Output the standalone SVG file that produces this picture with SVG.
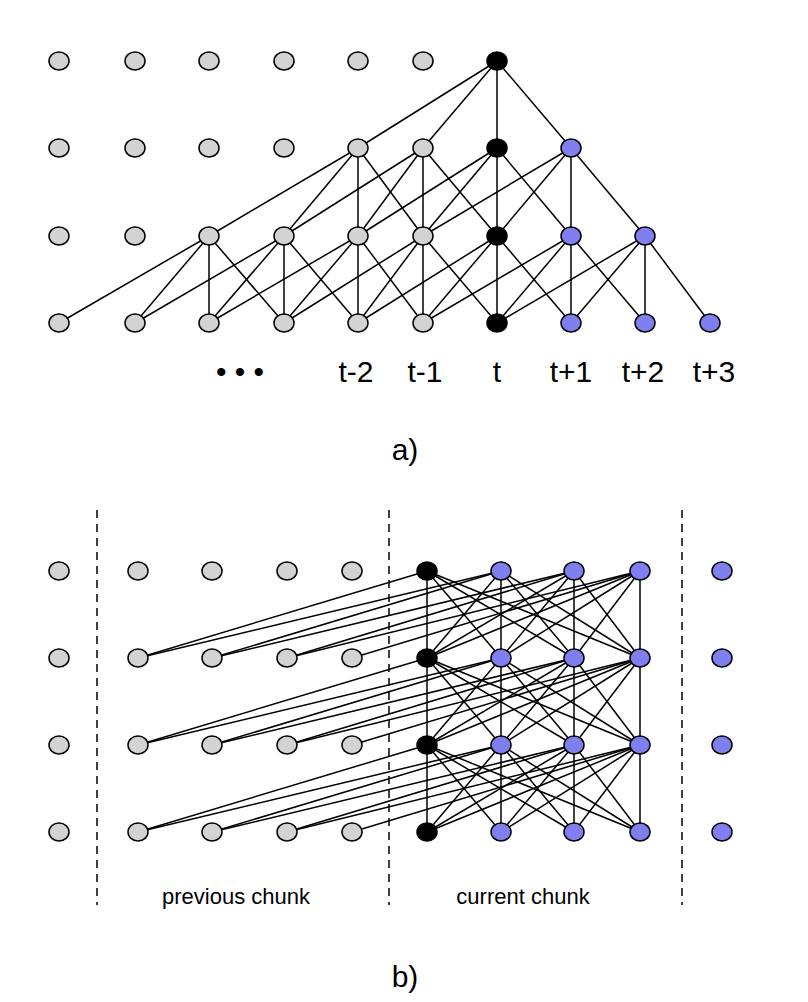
<svg xmlns="http://www.w3.org/2000/svg" width="808" height="1002" viewBox="0 0 808 1002">
<style>
.e{stroke:#000;stroke-width:1.5}
.g{fill:#d3d3d3;stroke:#000;stroke-width:1.5}
.k{fill:#000;stroke:#000;stroke-width:1.5}
.b{fill:#7f7ff0;stroke:#000;stroke-width:1.5}
.d{stroke:#000;stroke-width:1.5;stroke-dasharray:8,6}
text{font-family:"Liberation Sans",Arial,sans-serif;fill:#000}
</style>
<rect width="808" height="1002" fill="#fff"/>
<g id="connectors-a" class="e">
<line x1="497" y1="61" x2="358" y2="148"/><line x1="497" y1="61" x2="423" y2="148"/><line x1="497" y1="61" x2="497" y2="148"/><line x1="497" y1="61" x2="571" y2="148"/>
<line x1="358" y1="148" x2="209" y2="236"/><line x1="358" y1="148" x2="284" y2="236"/><line x1="358" y1="148" x2="358" y2="236"/><line x1="358" y1="148" x2="423" y2="236"/>
<line x1="423" y1="148" x2="284" y2="236"/><line x1="423" y1="148" x2="358" y2="236"/><line x1="423" y1="148" x2="423" y2="236"/><line x1="423" y1="148" x2="497" y2="236"/>
<line x1="497" y1="148" x2="358" y2="236"/><line x1="497" y1="148" x2="423" y2="236"/><line x1="497" y1="148" x2="497" y2="236"/><line x1="497" y1="148" x2="571" y2="236"/>
<line x1="571" y1="148" x2="423" y2="236"/><line x1="571" y1="148" x2="497" y2="236"/><line x1="571" y1="148" x2="571" y2="236"/><line x1="571" y1="148" x2="645" y2="236"/>
<line x1="209" y1="236" x2="59" y2="323"/><line x1="209" y1="236" x2="135" y2="323"/><line x1="209" y1="236" x2="209" y2="323"/><line x1="209" y1="236" x2="284" y2="323"/>
<line x1="284" y1="236" x2="135" y2="323"/><line x1="284" y1="236" x2="209" y2="323"/><line x1="284" y1="236" x2="284" y2="323"/><line x1="284" y1="236" x2="358" y2="323"/>
<line x1="358" y1="236" x2="209" y2="323"/><line x1="358" y1="236" x2="284" y2="323"/><line x1="358" y1="236" x2="358" y2="323"/><line x1="358" y1="236" x2="423" y2="323"/>
<line x1="423" y1="236" x2="284" y2="323"/><line x1="423" y1="236" x2="358" y2="323"/><line x1="423" y1="236" x2="423" y2="323"/><line x1="423" y1="236" x2="497" y2="323"/>
<line x1="497" y1="236" x2="358" y2="323"/><line x1="497" y1="236" x2="423" y2="323"/><line x1="497" y1="236" x2="497" y2="323"/><line x1="497" y1="236" x2="571" y2="323"/>
<line x1="571" y1="236" x2="423" y2="323"/><line x1="571" y1="236" x2="497" y2="323"/><line x1="571" y1="236" x2="571" y2="323"/><line x1="571" y1="236" x2="645" y2="323"/>
<line x1="645" y1="236" x2="497" y2="323"/><line x1="645" y1="236" x2="571" y2="323"/><line x1="645" y1="236" x2="645" y2="323"/><line x1="645" y1="236" x2="710" y2="323"/>
</g>
<g id="nodes-a">
<g id="a-r0"><ellipse class="g" cx="59" cy="61" rx="10" ry="9"/><ellipse class="g" cx="135" cy="61" rx="10" ry="9"/><ellipse class="g" cx="209" cy="61" rx="10" ry="9"/><ellipse class="g" cx="284" cy="61" rx="10" ry="9"/><ellipse class="g" cx="358" cy="61" rx="10" ry="9"/><ellipse class="g" cx="423" cy="61" rx="10" ry="9"/><ellipse class="k" cx="497" cy="61" rx="10" ry="9"/></g>
<g id="a-r1"><ellipse class="g" cx="59" cy="148" rx="10" ry="9"/><ellipse class="g" cx="135" cy="148" rx="10" ry="9"/><ellipse class="g" cx="209" cy="148" rx="10" ry="9"/><ellipse class="g" cx="284" cy="148" rx="10" ry="9"/><ellipse class="g" cx="358" cy="148" rx="10" ry="9"/><ellipse class="g" cx="423" cy="148" rx="10" ry="9"/><ellipse class="k" cx="497" cy="148" rx="10" ry="9"/><ellipse class="b" cx="571" cy="148" rx="10" ry="9"/></g>
<g id="a-r2"><ellipse class="g" cx="59" cy="236" rx="10" ry="9"/><ellipse class="g" cx="135" cy="236" rx="10" ry="9"/><ellipse class="g" cx="209" cy="236" rx="10" ry="9"/><ellipse class="g" cx="284" cy="236" rx="10" ry="9"/><ellipse class="g" cx="358" cy="236" rx="10" ry="9"/><ellipse class="g" cx="423" cy="236" rx="10" ry="9"/><ellipse class="k" cx="497" cy="236" rx="10" ry="9"/><ellipse class="b" cx="571" cy="236" rx="10" ry="9"/><ellipse class="b" cx="645" cy="236" rx="10" ry="9"/></g>
<g id="a-r3"><ellipse class="g" cx="59" cy="323" rx="10" ry="9"/><ellipse class="g" cx="135" cy="323" rx="10" ry="9"/><ellipse class="g" cx="209" cy="323" rx="10" ry="9"/><ellipse class="g" cx="284" cy="323" rx="10" ry="9"/><ellipse class="g" cx="358" cy="323" rx="10" ry="9"/><ellipse class="g" cx="423" cy="323" rx="10" ry="9"/><ellipse class="k" cx="497" cy="323" rx="10" ry="9"/><ellipse class="b" cx="571" cy="323" rx="10" ry="9"/><ellipse class="b" cx="645" cy="323" rx="10" ry="9"/><ellipse class="b" cx="710" cy="323" rx="10" ry="9"/></g>
</g>
<g id="labels-a" font-size="30" text-anchor="middle">
<text x="240" y="382">• • •</text>
<text x="356" y="382">t-2</text><text x="425" y="382">t-1</text><text x="497" y="382">t</text>
<text x="571" y="382">t+1</text><text x="643" y="382">t+2</text><text x="714" y="382">t+3</text>
<text x="405" y="460">a)</text>
</g>
<g id="dashes">
<line class="d" x1="97" y1="510" x2="97" y2="905"/><line class="d" x1="389" y1="510" x2="389" y2="905"/><line class="d" x1="682" y1="510" x2="682" y2="905"/>
</g>
<g id="connectors-b" class="e">
<line x1="427" y1="571" x2="138" y2="658"/><line x1="501" y1="571" x2="138" y2="658"/><line x1="501" y1="571" x2="212" y2="658"/><line x1="574" y1="571" x2="212" y2="658"/><line x1="574" y1="571" x2="287" y2="658"/><line x1="640" y1="571" x2="287" y2="658"/><line x1="640" y1="571" x2="352" y2="658"/>
<line x1="427" y1="571" x2="427" y2="658"/><line x1="427" y1="571" x2="501" y2="658"/><line x1="427" y1="571" x2="574" y2="658"/><line x1="427" y1="571" x2="640" y2="658"/>
<line x1="501" y1="571" x2="427" y2="658"/><line x1="501" y1="571" x2="501" y2="658"/><line x1="501" y1="571" x2="574" y2="658"/><line x1="501" y1="571" x2="640" y2="658"/>
<line x1="574" y1="571" x2="427" y2="658"/><line x1="574" y1="571" x2="501" y2="658"/><line x1="574" y1="571" x2="574" y2="658"/><line x1="574" y1="571" x2="640" y2="658"/>
<line x1="640" y1="571" x2="427" y2="658"/><line x1="640" y1="571" x2="501" y2="658"/><line x1="640" y1="571" x2="574" y2="658"/><line x1="640" y1="571" x2="640" y2="658"/>
<line x1="427" y1="658" x2="138" y2="745"/><line x1="501" y1="658" x2="138" y2="745"/><line x1="501" y1="658" x2="212" y2="745"/><line x1="574" y1="658" x2="212" y2="745"/><line x1="574" y1="658" x2="287" y2="745"/><line x1="640" y1="658" x2="287" y2="745"/><line x1="640" y1="658" x2="352" y2="745"/>
<line x1="427" y1="658" x2="427" y2="745"/><line x1="427" y1="658" x2="501" y2="745"/><line x1="427" y1="658" x2="574" y2="745"/><line x1="427" y1="658" x2="640" y2="745"/>
<line x1="501" y1="658" x2="427" y2="745"/><line x1="501" y1="658" x2="501" y2="745"/><line x1="501" y1="658" x2="574" y2="745"/><line x1="501" y1="658" x2="640" y2="745"/>
<line x1="574" y1="658" x2="427" y2="745"/><line x1="574" y1="658" x2="501" y2="745"/><line x1="574" y1="658" x2="574" y2="745"/><line x1="574" y1="658" x2="640" y2="745"/>
<line x1="640" y1="658" x2="427" y2="745"/><line x1="640" y1="658" x2="501" y2="745"/><line x1="640" y1="658" x2="574" y2="745"/><line x1="640" y1="658" x2="640" y2="745"/>
<line x1="427" y1="745" x2="138" y2="832"/><line x1="501" y1="745" x2="138" y2="832"/><line x1="501" y1="745" x2="212" y2="832"/><line x1="574" y1="745" x2="212" y2="832"/><line x1="574" y1="745" x2="287" y2="832"/><line x1="640" y1="745" x2="287" y2="832"/><line x1="640" y1="745" x2="352" y2="832"/>
<line x1="427" y1="745" x2="427" y2="832"/><line x1="427" y1="745" x2="501" y2="832"/><line x1="427" y1="745" x2="574" y2="832"/><line x1="427" y1="745" x2="640" y2="832"/>
<line x1="501" y1="745" x2="427" y2="832"/><line x1="501" y1="745" x2="501" y2="832"/><line x1="501" y1="745" x2="574" y2="832"/><line x1="501" y1="745" x2="640" y2="832"/>
<line x1="574" y1="745" x2="427" y2="832"/><line x1="574" y1="745" x2="501" y2="832"/><line x1="574" y1="745" x2="574" y2="832"/><line x1="574" y1="745" x2="640" y2="832"/>
<line x1="640" y1="745" x2="427" y2="832"/><line x1="640" y1="745" x2="501" y2="832"/><line x1="640" y1="745" x2="574" y2="832"/><line x1="640" y1="745" x2="640" y2="832"/>
</g>
<g id="nodes-b">
<g id="b-r0"><ellipse class="g" cx="59" cy="571" rx="10" ry="9"/><ellipse class="g" cx="138" cy="571" rx="10" ry="9"/><ellipse class="g" cx="212" cy="571" rx="10" ry="9"/><ellipse class="g" cx="287" cy="571" rx="10" ry="9"/><ellipse class="g" cx="352" cy="571" rx="10" ry="9"/><ellipse class="k" cx="427" cy="571" rx="10" ry="9"/><ellipse class="b" cx="501" cy="571" rx="10" ry="9"/><ellipse class="b" cx="574" cy="571" rx="10" ry="9"/><ellipse class="b" cx="640" cy="571" rx="10" ry="9"/><ellipse class="b" cx="722" cy="571" rx="10" ry="9"/></g>
<g id="b-r1"><ellipse class="g" cx="59" cy="658" rx="10" ry="9"/><ellipse class="g" cx="138" cy="658" rx="10" ry="9"/><ellipse class="g" cx="212" cy="658" rx="10" ry="9"/><ellipse class="g" cx="287" cy="658" rx="10" ry="9"/><ellipse class="g" cx="352" cy="658" rx="10" ry="9"/><ellipse class="k" cx="427" cy="658" rx="10" ry="9"/><ellipse class="b" cx="501" cy="658" rx="10" ry="9"/><ellipse class="b" cx="574" cy="658" rx="10" ry="9"/><ellipse class="b" cx="640" cy="658" rx="10" ry="9"/><ellipse class="b" cx="722" cy="658" rx="10" ry="9"/></g>
<g id="b-r2"><ellipse class="g" cx="59" cy="745" rx="10" ry="9"/><ellipse class="g" cx="138" cy="745" rx="10" ry="9"/><ellipse class="g" cx="212" cy="745" rx="10" ry="9"/><ellipse class="g" cx="287" cy="745" rx="10" ry="9"/><ellipse class="g" cx="352" cy="745" rx="10" ry="9"/><ellipse class="k" cx="427" cy="745" rx="10" ry="9"/><ellipse class="b" cx="501" cy="745" rx="10" ry="9"/><ellipse class="b" cx="574" cy="745" rx="10" ry="9"/><ellipse class="b" cx="640" cy="745" rx="10" ry="9"/><ellipse class="b" cx="722" cy="745" rx="10" ry="9"/></g>
<g id="b-r3"><ellipse class="g" cx="59" cy="832" rx="10" ry="9"/><ellipse class="g" cx="138" cy="832" rx="10" ry="9"/><ellipse class="g" cx="212" cy="832" rx="10" ry="9"/><ellipse class="g" cx="287" cy="832" rx="10" ry="9"/><ellipse class="g" cx="352" cy="832" rx="10" ry="9"/><ellipse class="k" cx="427" cy="832" rx="10" ry="9"/><ellipse class="b" cx="501" cy="832" rx="10" ry="9"/><ellipse class="b" cx="574" cy="832" rx="10" ry="9"/><ellipse class="b" cx="640" cy="832" rx="10" ry="9"/><ellipse class="b" cx="722" cy="832" rx="10" ry="9"/></g>
</g>
<g id="labels-b" text-anchor="middle">
<text x="236" y="904" font-size="22">previous chunk</text>
<text x="523" y="904" font-size="22">current chunk</text>
<text x="405" y="987" font-size="30">b)</text>
</g>
</svg>
